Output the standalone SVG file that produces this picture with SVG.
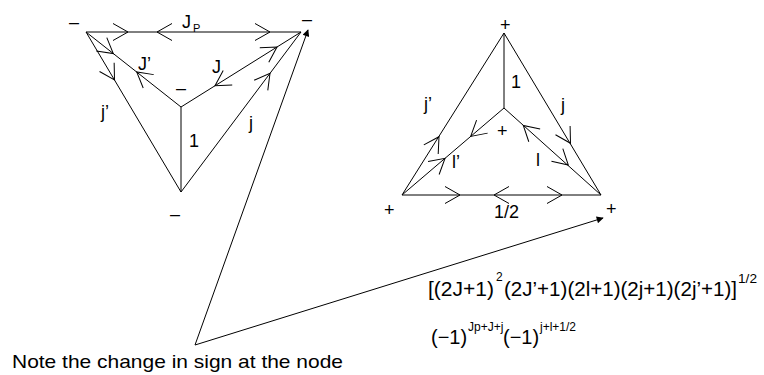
<svg xmlns="http://www.w3.org/2000/svg" xmlns:xlink="http://www.w3.org/1999/xlink" width="764" height="375" viewBox="0 0 764 375">
<style>
  .e { stroke: #000; stroke-width: 1; fill: none; }
  .t { font-family: "Liberation Sans", Arial, sans-serif; font-size: 18px; fill: #000; }
  .f { font-family: "Liberation Sans", Arial, sans-serif; font-size: 20px; fill: #000; }
  .s { font-family: "Liberation Sans", Arial, sans-serif; font-size: 12px; fill: #000; }
</style>
<defs>
  <path id="chev" d="M-15,-8.5 L0,0 L-15,8.5" stroke="#000" stroke-width="1" fill="none"/>
  <marker id="ah" viewBox="0 0 10 10" refX="9" refY="5" markerWidth="10" markerHeight="7" markerUnits="userSpaceOnUse" orient="auto">
    <path d="M0,0 L10,5 L0,10 z" fill="#000"/>
  </marker>
</defs>
<rect width="764" height="375" fill="#fff"/>

<!-- Left diagram -->
<g id="connectors-left">
  <path class="e" d="M86,32 L301,32"/>
  <path class="e" d="M86,32 L181,107"/>
  <path class="e" d="M86,32 L181,192"/>
  <path class="e" d="M301,32 L181,107"/>
  <path class="e" d="M301,32 L181,192"/>
  <path class="e" d="M181,107 L181,192"/>
  <use xlink:href="#chev" transform="translate(128,32)"/>
  <use xlink:href="#chev" transform="translate(157,32) rotate(180)"/>
  <use xlink:href="#chev" transform="translate(270,32)"/>
  <use xlink:href="#chev" transform="translate(113.3,53.6) rotate(38.3)"/>
  <use xlink:href="#chev" transform="translate(136.7,72) rotate(218.3)"/>
  <use xlink:href="#chev" transform="translate(114.5,80) rotate(59.3)"/>
  <use xlink:href="#chev" transform="translate(215,85.75) rotate(148)"/>
  <use xlink:href="#chev" transform="translate(277,47) rotate(-32)"/>
  <use xlink:href="#chev" transform="translate(270,73.3) rotate(-53.1)"/>
  <text class="t" x="182" y="28">J</text>
  <text class="t" x="193" y="32" style="font-size:11px">P</text>
  <text class="t" x="138" y="70">J’</text>
  <text class="t" x="212" y="73">J</text>
  <text class="t" x="101" y="118">j’</text>
  <text class="t" x="189" y="147">1</text>
  <text class="t" x="249" y="129">j</text>
</g>
<g id="node-l-topleft"><text class="t" x="69" y="27.5">–</text></g>
<g id="node-l-topright"><text class="t" x="302" y="24.5">–</text></g>
<g id="node-l-center"><text class="t" x="176" y="93.5">–</text></g>
<g id="node-l-bottom"><text class="t" x="170" y="219.5">–</text></g>

<!-- Right diagram -->
<g id="connectors-right">
  <path class="e" d="M402,195 L601,195"/>
  <path class="e" d="M402,195 L504,33"/>
  <path class="e" d="M601,195 L504,33"/>
  <path class="e" d="M504,33 L504,108"/>
  <path class="e" d="M402,195 L504,108"/>
  <path class="e" d="M601,195 L504,108"/>
  <use xlink:href="#chev" transform="translate(460,195)"/>
  <use xlink:href="#chev" transform="translate(494,195) rotate(180)"/>
  <use xlink:href="#chev" transform="translate(562,195)"/>
  <use xlink:href="#chev" transform="translate(439,136.7) rotate(-57.8)"/>
  <use xlink:href="#chev" transform="translate(445,158.3) rotate(-40.5)"/>
  <use xlink:href="#chev" transform="translate(470.7,136.4) rotate(139.5)"/>
  <use xlink:href="#chev" transform="translate(523.3,125.4) rotate(221.9)"/>
  <use xlink:href="#chev" transform="translate(568.3,165) rotate(41.9)"/>
  <use xlink:href="#chev" transform="translate(570.5,143.3) rotate(59.1)"/>
  <text class="t" x="511" y="88">1</text>
  <text class="t" x="424" y="110">j’</text>
  <text class="t" x="561" y="111">j</text>
  <text class="t" x="452" y="168">l’</text>
  <text class="t" x="536" y="166">l</text>
  <text class="t" x="494" y="218">1/2</text>
</g>
<g id="node-r-top"><text class="t" x="500" y="31">+</text></g>
<g id="node-r-center"><text class="t" x="497" y="137">+</text></g>
<g id="node-r-left"><text class="t" x="384" y="216">+</text></g>
<g id="node-r-right"><text class="t" x="606" y="215">+</text></g>

<!-- Pointer lines -->
<g id="connectors-pointer">
  <path class="e" d="M195,345 L308,30" marker-end="url(#ah)"/>
  <path class="e" d="M195,345 L603,218" marker-end="url(#ah)"/>
</g>

<!-- Formulas and note -->
<g id="formula-1">
  <text class="f" x="428" y="296" textLength="66" lengthAdjust="spacingAndGlyphs">[(2J+1)</text>
  <text class="s" x="496" y="281">2</text>
  <text class="f" x="504" y="296" textLength="233" lengthAdjust="spacingAndGlyphs">(2J’+1)(2l+1)(2j+1)(2j’+1)]</text>
  <text class="s" x="738" y="283" textLength="19" lengthAdjust="spacingAndGlyphs">1/2</text>
</g>
<g id="formula-2">
  <text class="f" x="431" y="344">(−1)</text>
  <text class="s" x="468" y="331">Jp+J+j</text>
  <text class="f" x="503" y="344">(−1)</text>
  <text class="s" x="540" y="331">j+l+1/2</text>
</g>
<g id="note">
  <text class="f" x="12" y="368" style="font-size:19px" textLength="331" lengthAdjust="spacingAndGlyphs">Note the change in sign at the node</text>
</g>
</svg>
